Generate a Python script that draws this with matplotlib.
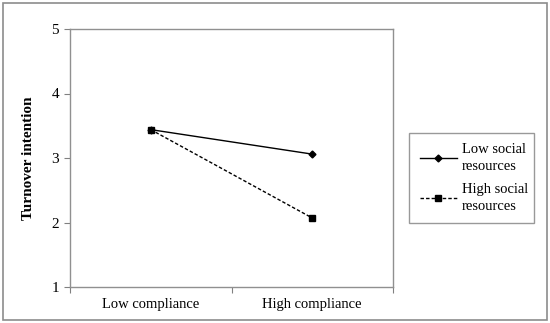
import matplotlib
matplotlib.use("Agg")
import matplotlib.pyplot as plt
from matplotlib.patches import Rectangle

plt.rcParams["font.family"] = ["Liberation Serif", "DejaVu Serif"]

# 데이터
categories = ["Low compliance", "High compliance"]
low_social = [3.44, 3.06]
high_social = [3.44, 2.07]
series_names = ["Low social\nresources", "High social\nresources"]
y_ticks = [1, 2, 3, 4, 5]

fig = plt.figure(figsize=(5.5, 3.23), dpi=100)
fig.patches.append(Rectangle((3 / 550, 3 / 323), 544 / 550, 317 / 323,
                             transform=fig.transFigure, fill=False,
                             edgecolor="#8c8c8c", lw=1.2))

ax = fig.add_axes([70 / 550, 1 - 287 / 323, 323 / 550, 258 / 323])
xpos = [0.5, 1.5]
ax.plot(xpos, low_social, color="black", lw=1.0, marker="D", markersize=3.5,
        label=series_names[0])
ax.plot(xpos, high_social, color="black", lw=1.0, ls=(0, (2.5, 1.5)),
        marker="s", markersize=4.5, label=series_names[1])

ax.set_xlim(0, 2)
ax.set_ylim(1, 5)
ax.set_yticks(y_ticks)
ax.set_xticks([0, 1, 2])
ax.set_xticklabels([])
ax.set_xticks(xpos, minor=True)
ax.set_xticklabels(categories, minor=True, fontsize=10.5)
ax.tick_params(axis="x", which="minor", length=0, pad=8)
ax.tick_params(axis="x", which="major", direction="out", length=4, color="#808080")
ax.tick_params(axis="y", direction="out", length=4, color="#808080", labelsize=11, pad=4)
for s in ax.spines.values():
    s.set_color("#909090")
    s.set_linewidth(1.0)

ax.set_ylabel("Turnover intention", fontsize=11, fontweight="bold", labelpad=12)

leg = ax.legend(loc="center left", bbox_to_anchor=(402 / 550, 1 - 222 / 323, 139 / 550, 88 / 323),
                bbox_transform=fig.transFigure, mode="expand", fontsize=10.5,
                frameon=True, fancybox=False, handlelength=2.6, handletextpad=0.3,
                labelspacing=0.75, borderpad=0.7)
leg.get_frame().set_edgecolor("#808080")
leg.get_frame().set_linewidth(1.0)
for t in leg.get_texts():
    t.set_linespacing(1.35)

plt.savefig("out.png", dpi=100)
plt.close()
